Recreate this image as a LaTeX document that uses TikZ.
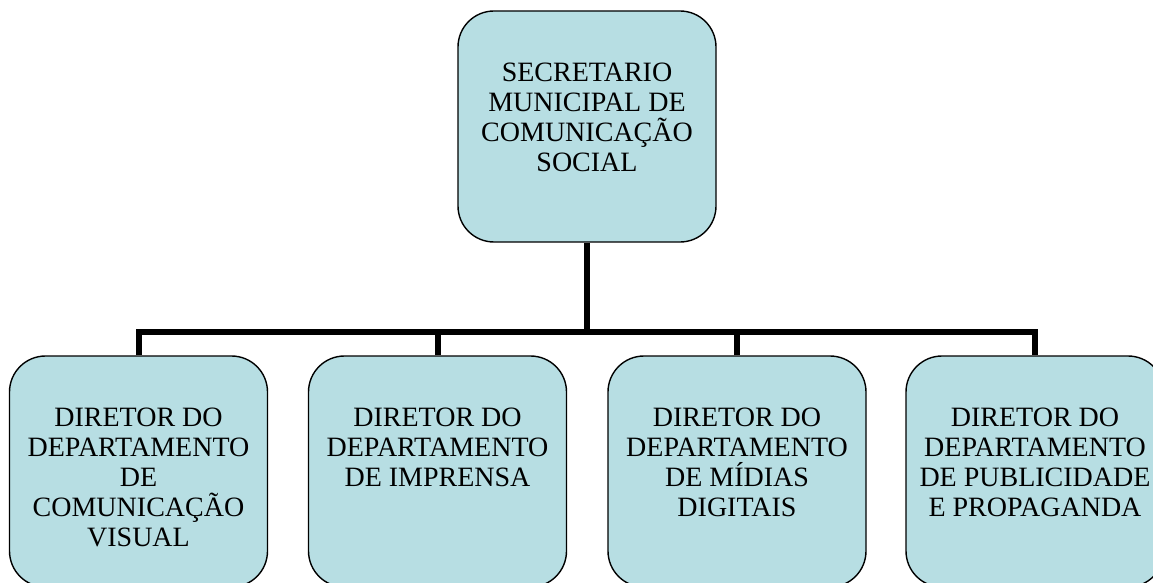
\documentclass[tikz,border=0pt]{standalone}
\usepackage{fontspec}
\setmainfont{Liberation Serif}
\definecolor{azulclaro}{RGB}{183,222,227}
\tikzset{
  caixa/.style={draw, line width=1.4pt, fill=azulclaro, rounded corners=36pt,
    minimum width=258pt, minimum height=231pt, inner sep=0pt},
  texto/.style={align=center, anchor=north, inner sep=0pt,
    font=\fontsize{28}{30}\selectfont},
  ligacao/.style={line width=6pt}
}
\begin{document}
\begin{tikzpicture}[x=1pt,y=-1pt]
    \useasboundingbox (0,0) rectangle (1153,583);
    \node[caixa] (sec) at (587,126.5){};
    \node[caixa] (dir1) at (138.5,471.5){};
    \node[caixa] (dir2) at (437.5,471.5){};
    \node[caixa] (dir3) at (737,471.5){};
    \node[caixa] (dir4) at (1035,471.5){};
    \node[texto] (secT) at ([yshift=-52pt]sec.north){SECRETARIO\\MUNICIPAL DE\\COMUNICAÇÃO\\SOCIAL};
    \node[texto] (dir1T) at ([yshift=-52pt]dir1.north){DIRETOR DO\\DEPARTAMENTO\\DE\\COMUNICAÇÃO\\VISUAL};
    \node[texto] (dir2T) at ([yshift=-52pt]dir2.north){DIRETOR DO\\DEPARTAMENTO\\DE IMPRENSA};
    \node[texto] (dir3T) at ([yshift=-52pt]dir3.north){DIRETOR DO\\DEPARTAMENTO\\DE MÍDIAS\\DIGITAIS};
    \node[texto] (dir4T) at ([yshift=-52pt]dir4.north){DIRETOR DO\\DEPARTAMENTO\\DE PUBLICIDADE\\E PROPAGANDA};
    \coordinate (barra) at (sec.south |- 0,332);
    \draw[ligacao] (sec.south) -- (barra);
    \draw[ligacao] (dir1.north) |- (barra) -| (dir4.north);
    \draw[ligacao] (dir2.north) -- (dir2.north |- barra);
    \draw[ligacao] (dir3.north) -- (dir3.north |- barra);
\end{tikzpicture}
\end{document}
